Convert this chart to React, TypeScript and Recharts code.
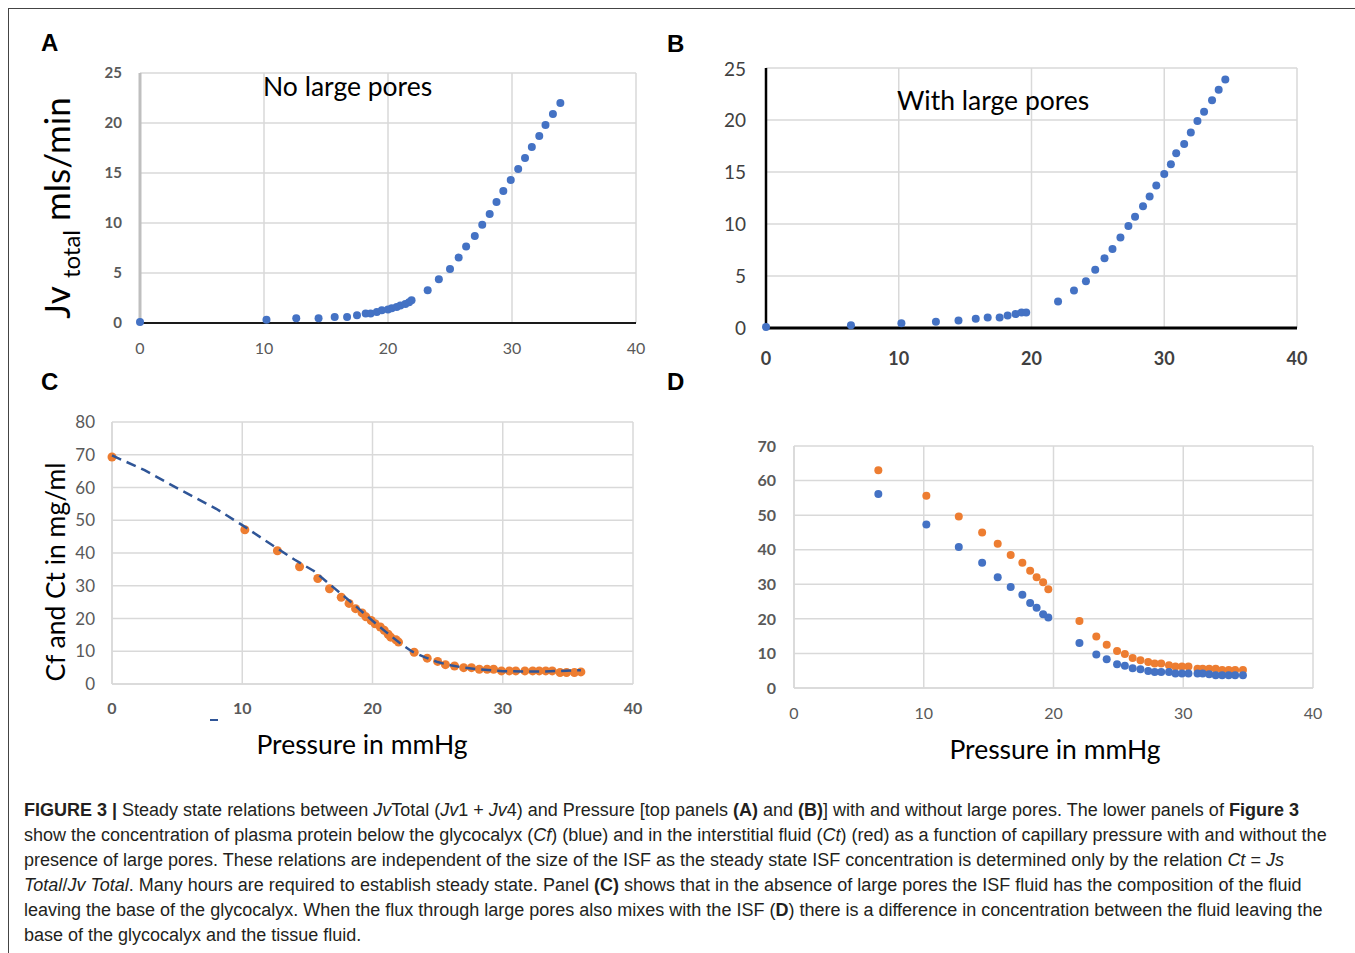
import React from "react";
import { CartesianGrid, Scatter, ScatterChart, XAxis, YAxis } from "recharts";

// Panel A: no large pores
const pressureA = [0, 10.2, 12.6, 14.4, 15.7, 16.7, 17.5, 18.2, 18.6, 19.1, 19.5, 20.0, 20.3, 20.7, 21.0, 21.4, 21.7, 21.9, 23.2, 24.1, 25.0, 25.7, 26.3, 27.0, 27.6, 28.2, 28.75, 29.3, 29.9, 30.5, 31.05, 31.6, 32.2, 32.7, 33.3, 33.9];
const jvA = [0.1, 0.33, 0.47, 0.47, 0.6, 0.6, 0.77, 0.94, 0.94, 1.1, 1.27, 1.34, 1.47, 1.6, 1.74, 1.9, 2.07, 2.27, 3.28, 4.38, 5.4, 6.55, 7.66, 8.7, 9.83, 10.9, 12.1, 13.2, 14.3, 15.4, 16.5, 17.6, 18.7, 19.8, 20.9, 22.0];

// Panel B: with large pores
const pressureB = [0, 6.4, 10.2, 12.8, 14.5, 15.8, 16.7, 17.6, 18.2, 18.8, 19.25, 19.6, 22.0, 23.2, 24.1, 24.8, 25.5, 26.1, 26.7, 27.3, 27.8, 28.4, 28.9, 29.4, 30.0, 30.5, 30.9, 31.5, 32.0, 32.5, 33.0, 33.6, 34.1, 34.6];
const jvB = [0.1, 0.26, 0.45, 0.6, 0.73, 0.9, 1.0, 1.0, 1.2, 1.34, 1.5, 1.5, 2.56, 3.6, 4.5, 5.6, 6.7, 7.6, 8.7, 9.8, 10.7, 11.7, 12.65, 13.7, 14.8, 15.75, 16.8, 17.7, 18.8, 19.9, 20.8, 21.9, 22.9, 23.9];

// Panel C: Ct points and Cf dashed curve
const pressureC = [0, 10.2, 12.7, 14.4, 15.8, 16.7, 17.6, 18.2, 18.7, 19.2, 19.5, 19.9, 20.2, 20.6, 20.9, 21.2, 21.4, 21.8, 22.0, 23.2, 24.2, 25.0, 25.6, 26.3, 27.0, 27.6, 28.2, 28.8, 29.3, 29.9, 30.5, 31.0, 31.7, 32.3, 32.8, 33.3, 33.8, 34.4, 34.9, 35.5, 36.0];
const ctC = [69.3, 47.1, 40.7, 35.8, 32.2, 29.1, 26.5, 24.6, 23.0, 21.7, 20.5, 19.4, 18.4, 17.4, 16.4, 15.2, 14.3, 13.5, 12.8, 9.7, 7.9, 6.9, 5.9, 5.5, 5.0, 5.0, 4.5, 4.5, 4.5, 4.0, 4.0, 4.0, 4.0, 4.0, 4.0, 4.0, 4.0, 3.5, 3.5, 3.5, 3.7];
const pressureCfC = [0, 2.5, 5, 8, 10, 12, 14, 15.5, 17, 18.5, 20, 21, 22, 23, 24, 25, 26, 27, 28, 30, 33, 36];
const cfC = [69.8, 65.3, 59.8, 53.5, 48.5, 43.2, 38, 34.5, 29.5, 24.5, 19.3, 16, 12.8, 10, 8.2, 6.7, 5.7, 5, 4.5, 3.9, 3.8, 4.2];

// Panel D: Cf (blue) and Ct (orange) with large pores
const pressureD = [6.5, 10.2, 12.7, 14.5, 15.7, 16.7, 17.6, 18.2, 18.7, 19.2, 19.6, 22.0, 23.3, 24.1, 24.9, 25.5, 26.1, 26.7, 27.3, 27.8, 28.3, 28.9, 29.4, 29.9, 30.4, 31.1, 31.5, 32.0, 32.5, 33.0, 33.5, 34.0, 34.6];
const ctD = [63.0, 55.6, 49.6, 45.0, 41.7, 38.5, 36.2, 33.9, 32.0, 30.6, 28.6, 19.4, 14.9, 12.5, 10.7, 9.8, 8.7, 8.0, 7.5, 7.1, 7.1, 6.6, 6.2, 6.2, 6.2, 5.6, 5.6, 5.6, 5.6, 5.2, 5.2, 5.2, 5.2];
const cfD = [56.1, 47.3, 40.8, 36.2, 32.0, 29.2, 27.0, 24.6, 23.2, 21.3, 20.4, 13.0, 9.7, 8.3, 6.9, 6.4, 5.7, 5.4, 4.9, 4.6, 4.6, 4.6, 4.2, 4.2, 4.2, 4.2, 4.2, 4.0, 3.7, 3.7, 3.7, 3.7, 3.7];

const xTicks = [0, 10, 20, 30, 40];
const jvTicks = [0, 5, 10, 15, 20, 25];
const concTicksC = [0, 10, 20, 30, 40, 50, 60, 70, 80];
const concTicksD = [0, 10, 20, 30, 40, 50, 60, 70];

const BLUE = "#4472c4";
const ORANGE = "#ed7d31";
const CALIBRI = "Lato, 'Open Sans', sans-serif";
const ARIAL = "'Liberation Sans', Arial, sans-serif";

const toPoints = (xs: number[], ys: number[]) => xs.map((x, i) => ({ x, y: ys[i] }));

const dot = (r: number, fill: string) => (props: any) => (
  <circle cx={props.cx} cy={props.cy} r={r} fill={fill} />
);

const abs = (left: number, top: number): React.CSSProperties => ({
  position: "absolute",
  left,
  top,
});

const PanelLetter = ({ x, y, text }: { x: number; y: number; text: string }) => (
  <div style={{ ...abs(x, y), fontFamily: ARIAL, fontWeight: 700, fontSize: 24, lineHeight: "24px" }}>
    {text}
  </div>
);

const b = (t: string) => <b style={{ fontWeight: 700 }}>{t}</b>;
const i = (t: string) => <i>{t}</i>;

const captionLines: React.ReactNode[] = [
  <>
    {b("FIGURE 3 |")} Steady state relations between {i("Jv")}Total ({i("Jv")}1 + {i("Jv")}4) and Pressure [top panels {b("(A)")} and {b("(B)")}] with and without large pores. The lower panels of {b("Figure 3")}
  </>,
  <>
    show the concentration of plasma protein below the glycocalyx ({i("Cf")}) (blue) and in the interstitial fluid ({i("Ct")}) (red) as a function of capillary pressure with and without the
  </>,
  <>
    presence of large pores. These relations are independent of the size of the ISF as the steady state ISF concentration is determined only by the relation {i("Ct")} = {i("Js")}
  </>,
  <>
    {i("Total")}/{i("Jv Total")}. Many hours are required to establish steady state. Panel {b("(C)")} shows that in the absence of large pores the ISF fluid has the composition of the fluid
  </>,
  <>
    leaving the base of the glycocalyx. When the flux through large pores also mixes with the ISF ({b("D")}) there is a difference in concentration between the fluid leaving the
  </>,
  <>base of the glycocalyx and the tissue fluid.</>,
];

export default function App() {
  return (
    <div style={{ ...abs(0, 0), width: 1355, height: 953, background: "#fff", overflow: "hidden" }}>
      {/* frame */}
      <div style={{ ...abs(8, 8), width: 1347, height: 945, borderTop: "1.5px solid #444", borderLeft: "1.5px solid #444" }} />

      <PanelLetter x={41} y={31} text="A" />
      <PanelLetter x={667} y={32} text="B" />
      <PanelLetter x={41} y={370} text="C" />
      <PanelLetter x={667} y={370} text="D" />

      {/* Panel A */}
      <div style={abs(100, 63)}>
        <ScatterChart width={556} height={295} margin={{ top: 10, right: 20, bottom: 0, left: 0 }}>
          <CartesianGrid stroke="#d9d9d9" strokeWidth={1.5} />
          <XAxis
            type="number"
            dataKey="x"
            domain={[0, 40]}
            ticks={xTicks}
            height={35}
            tickLine={false}
            tickSize={0}
            tickMargin={20}
            axisLine={{ stroke: "#1a1a1a", strokeWidth: 2 }}
            tick={{ fontSize: 16, fill: "#595959", fontFamily: CALIBRI }}
          />
          <YAxis
            type="number"
            dataKey="y"
            domain={[0, 25]}
            ticks={jvTicks}
            width={40}
            tickLine={false}
            tickSize={0}
            tickMargin={18}
            axisLine={{ stroke: "#bfbfbf", strokeWidth: 3 }}
            tick={{ fontSize: 15, fill: "#595959", fontWeight: 700, fontFamily: CALIBRI }}
          />
          <Scatter data={toPoints(pressureA, jvA)} shape={dot(4, BLUE)} isAnimationActive={false} />
        </ScatterChart>
      </div>
      <div style={{ ...abs(263, 70), fontFamily: CALIBRI, fontSize: 26.5, color: "#000" }}>No large pores</div>
      <div
        style={{
          ...abs(56, 208),
          transform: "translate(-50%, -50%) rotate(-90deg)",
          whiteSpace: "nowrap",
          fontFamily: CALIBRI,
          fontSize: 35,
          color: "#000",
        }}
      >
        Jv <span style={{ fontSize: 24, position: "relative", top: 10 }}>total</span> mls/min
      </div>

      {/* Panel B */}
      <div style={abs(716, 58)}>
        <ScatterChart width={601} height={310} margin={{ top: 10, right: 20, bottom: 0, left: 0 }}>
          <CartesianGrid stroke="#d9d9d9" strokeWidth={1.5} />
          <XAxis
            type="number"
            dataKey="x"
            domain={[0, 40]}
            ticks={xTicks}
            height={40}
            tickLine={false}
            tickSize={0}
            tickMargin={24}
            axisLine={{ stroke: "#000", strokeWidth: 3 }}
            tick={{ fontSize: 18, fill: "#404040", fontWeight: 700, fontFamily: CALIBRI }}
          />
          <YAxis
            type="number"
            dataKey="y"
            domain={[0, 25]}
            ticks={jvTicks}
            width={50}
            tickLine={false}
            tickSize={0}
            tickMargin={20}
            axisLine={{ stroke: "#000", strokeWidth: 2.5 }}
            tick={{ fontSize: 19, fill: "#404040", fontFamily: CALIBRI }}
          />
          <Scatter data={toPoints(pressureB, jvB)} shape={dot(4, BLUE)} isAnimationActive={false} />
        </ScatterChart>
      </div>
      <div style={{ ...abs(897, 84), fontFamily: CALIBRI, fontSize: 26.5, color: "#000" }}>With large pores</div>

      {/* Panel C */}
      <div style={abs(62, 412)}>
        <ScatterChart width={591} height={312} margin={{ top: 10, right: 20, bottom: 0, left: 0 }}>
          <CartesianGrid stroke="#d9d9d9" strokeWidth={1.5} />
          <XAxis
            type="number"
            dataKey="x"
            domain={[0, 40]}
            ticks={xTicks}
            height={40}
            tickLine={false}
            tickSize={0}
            tickMargin={19}
            axisLine={{ stroke: "#d9d9d9", strokeWidth: 1.5 }}
            tick={{ fontSize: 16, fill: "#595959", fontWeight: 700, fontFamily: CALIBRI }}
          />
          <YAxis
            type="number"
            dataKey="y"
            domain={[0, 80]}
            ticks={concTicksC}
            width={50}
            tickLine={false}
            tickSize={0}
            tickMargin={17}
            axisLine={{ stroke: "#d9d9d9", strokeWidth: 1.5 }}
            tick={{ fontSize: 17, fill: "#595959", fontFamily: CALIBRI }}
          />
          <Scatter data={toPoints(pressureC, ctC)} shape={dot(4.5, ORANGE)} isAnimationActive={false} />
          <Scatter
            data={toPoints(pressureCfC, cfC)}
            line={{ stroke: "#2f5597", strokeWidth: 2.5, strokeDasharray: "10 6" }}
            lineType="joint"
            shape={() => <g />}
            isAnimationActive={false}
          />
        </ScatterChart>
      </div>
      <div style={{ ...abs(210, 719), width: 8, height: 2, background: "#2f5597" }} />
      <div
        style={{
          ...abs(55, 572),
          transform: "translate(-50%, -50%) rotate(-90deg)",
          whiteSpace: "nowrap",
          fontFamily: CALIBRI,
          fontSize: 26.5,
          color: "#000",
        }}
      >
        Cf and Ct in mg/ml
      </div>
      <div style={{ ...abs(362, 744), transform: "translate(-50%, -50%)", whiteSpace: "nowrap", fontFamily: CALIBRI, fontSize: 26.5, color: "#000" }}>
        Pressure in mmHg
      </div>

      {/* Panel D */}
      <div style={abs(744, 436)}>
        <ScatterChart width={589} height={292} margin={{ top: 10, right: 20, bottom: 0, left: 0 }}>
          <CartesianGrid stroke="#d9d9d9" strokeWidth={1.5} />
          <XAxis
            type="number"
            dataKey="x"
            domain={[0, 40]}
            ticks={xTicks}
            height={40}
            tickLine={false}
            tickSize={0}
            tickMargin={20}
            axisLine={{ stroke: "#d9d9d9", strokeWidth: 1.5 }}
            tick={{ fontSize: 16, fill: "#595959", fontFamily: CALIBRI }}
          />
          <YAxis
            type="number"
            dataKey="y"
            domain={[0, 70]}
            ticks={concTicksD}
            width={50}
            tickLine={false}
            tickSize={0}
            tickMargin={18}
            axisLine={{ stroke: "#d9d9d9", strokeWidth: 1.5 }}
            tick={{ fontSize: 16, fill: "#595959", fontWeight: 700, fontFamily: CALIBRI }}
          />
          <Scatter data={toPoints(pressureD, ctD)} shape={dot(4, ORANGE)} isAnimationActive={false} />
          <Scatter data={toPoints(pressureD, cfD)} shape={dot(4, BLUE)} isAnimationActive={false} />
        </ScatterChart>
      </div>
      <div style={{ ...abs(1055, 749), transform: "translate(-50%, -50%)", whiteSpace: "nowrap", fontFamily: CALIBRI, fontSize: 26.5, color: "#000" }}>
        Pressure in mmHg
      </div>

      {/* Caption */}
      <div style={{ ...abs(24, 798), fontFamily: ARIAL, fontSize: 18, lineHeight: "25px", color: "#231f20" }}>
        {captionLines.map((line, k) => (
          <div key={k} style={{ whiteSpace: "nowrap" }}>
            {line}
          </div>
        ))}
      </div>
    </div>
  );
}
